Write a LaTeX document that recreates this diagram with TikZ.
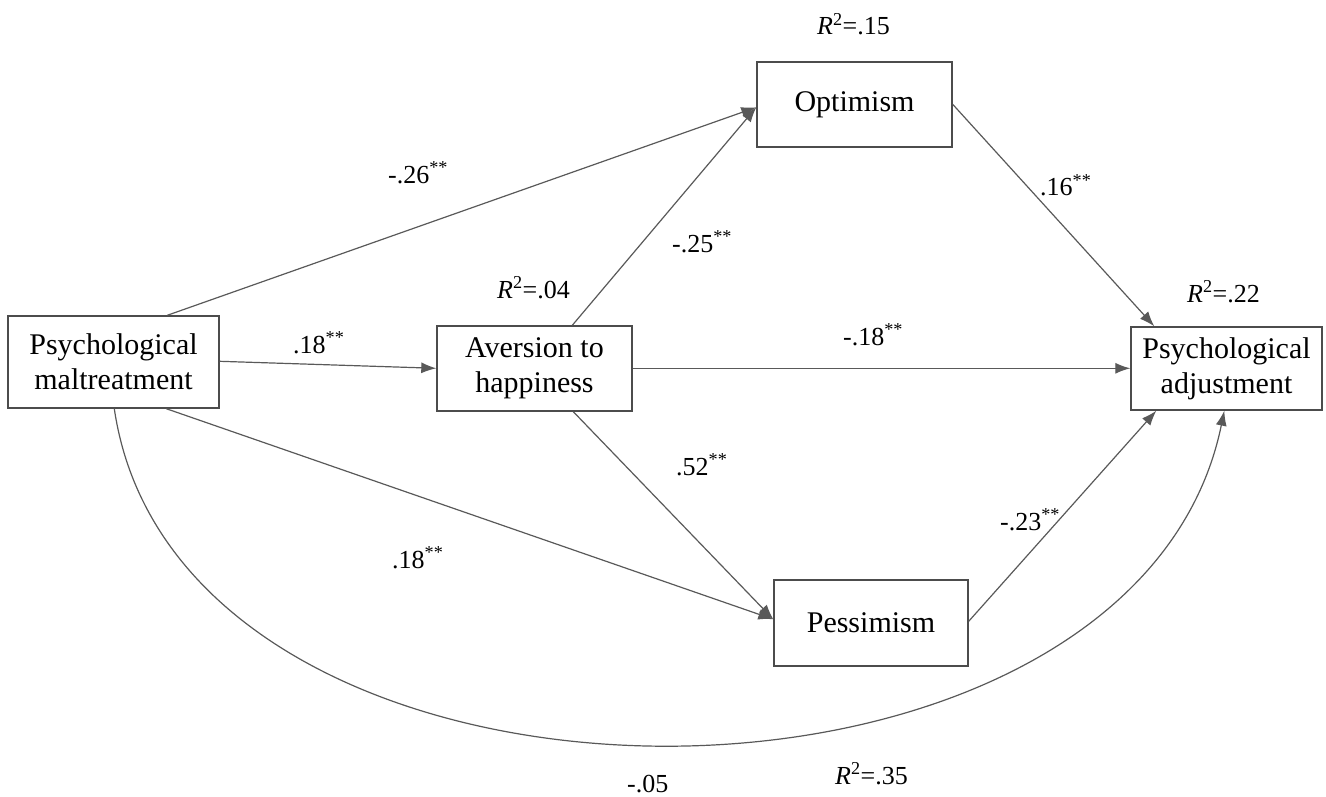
\documentclass[tikz,border=0pt]{standalone}
\usepackage{fontspec}
\setmainfont{Liberation Serif}
\usetikzlibrary{arrows.meta,calc}
\begin{document}
\begin{tikzpicture}[x=1pt,y=-1pt,
  box/.style={draw=black!70, line width=1.4pt, inner sep=0pt, align=center,
    font=\fontsize{30}{35}\selectfont},
  lbl/.style={inner sep=0pt, anchor=base west, font=\fontsize{26}{30}\selectfont},
  arr/.style={draw=black!65, line width=1.2pt, -{Latex[length=15pt,width=11pt]}}]
\useasboundingbox (0,0) rectangle (1326,797);
% boxes
\node[box, minimum width=211pt, minimum height=92pt] (pm) at (113.5,362) {Psychological\\maltreatment};
\node[box, minimum width=195pt, minimum height=85pt] (ah) at (534.5,368.5) {Aversion to\\happiness};
\node[box, minimum width=195pt, minimum height=85pt] (opt) at (854.5,104.5) {Optimism};
\node[box, minimum width=194pt, minimum height=86pt] (pess) at (871,623) {Pessimism};
\node[box, minimum width=191pt, minimum height=83pt] (pa) at (1226.5,368.5) {Psychological\\adjustment};
% anchor points
\coordinate (pmT) at ($(pm.north west)+(160,0)$);
\coordinate (pmE) at ($(pm.north east)+(0,46)$);
\coordinate (pmB) at ($(pm.south west)+(159,0)$);
\coordinate (pmC) at ($(pm.south west)+(107,0)$);
\coordinate (optW) at ($(opt.north west)+(0,46)$);
\coordinate (optE) at ($(opt.north east)+(0,43)$);
\coordinate (ahT) at ($(ah.north west)+(136,0)$);
\coordinate (ahW) at ($(ah.north west)+(0,43)$);
\coordinate (ahE) at ($(ah.north east)+(0,43)$);
\coordinate (ahB) at ($(ah.south west)+(137,0)$);
\coordinate (pessW) at ($(pess.north west)+(0,40)$);
\coordinate (pessE) at ($(pess.north east)+(0,42)$);
\coordinate (paW) at ($(pa.north west)+(0,42)$);
\coordinate (paT) at ($(pa.north west)+(24,0)$);
\coordinate (paB) at ($(pa.south west)+(26,0)$);
\coordinate (paC) at ($(pa.south west)+(94,0)$);
% connectors
\draw[arr] (pmT) -- (optW);
\draw[arr] (ahT) -- (optW);
\draw[arr] (pmE) -- (ahW);
\draw[arr] (pmB) -- (pessW);
\draw[arr] (ahB) -- (pessW);
\draw[arr] (ahE) -- (paW);
\draw[arr] (optE) -- (paT);
\draw[arr] (pessE) -- (paB);
\draw[arr] (pmC) .. controls (180,856) and (1133,856) .. (paC);
% labels
\node[lbl] (l1) at (388,183) {-.26\textsuperscript{**}};
\node[lbl] (l2) at (293,353) {.18\textsuperscript{**}};
\node[lbl] (l3) at (392,568) {.18\textsuperscript{**}};
\node[lbl] (l4) at (672,252) {-.25\textsuperscript{**}};
\node[lbl] (l5) at (497,298) {\textit{R}\textsuperscript{2}=.04};
\node[lbl] (l6) at (817,35) {\textit{R}\textsuperscript{2}=.15};
\node[lbl] (l7) at (1040,196) {.16\textsuperscript{**}};
\node[lbl] (l8) at (1187,302) {\textit{R}\textsuperscript{2}=.22};
\node[lbl] (l9) at (843,345) {-.18\textsuperscript{**}};
\node[lbl] (l10) at (676,475) {.52\textsuperscript{**}};
\node[lbl] (l11) at (1000,530) {-.23\textsuperscript{**}};
\node[lbl] (l12) at (835,784) {\textit{R}\textsuperscript{2}=.35};
\node[lbl] (l13) at (627,792) {-.05};
\end{tikzpicture}
\end{document}
